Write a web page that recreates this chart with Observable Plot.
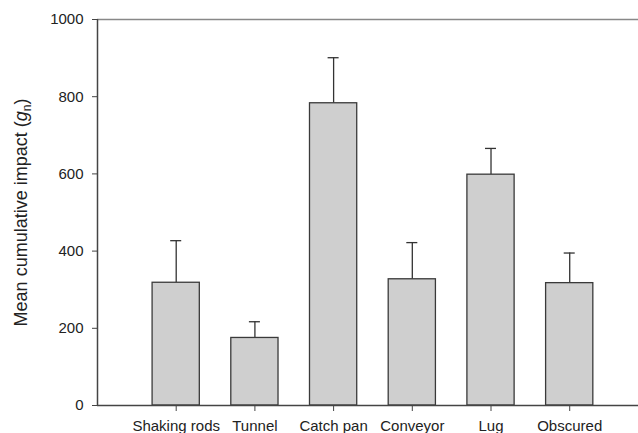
<!DOCTYPE html>
<html>
<head>
<meta charset="utf-8">
<script src="https://cdn.jsdelivr.net/npm/d3@7"></script>
<script src="https://cdn.jsdelivr.net/npm/@observablehq/plot@0.6"></script>
<style>
  html, body { margin: 0; padding: 0; background: #fff; }
  svg { display: block; }
</style>
</head>
<body>
<div id="chart"></div>
<script>
const categories = ["Shaking rods", "Tunnel", "Catch pan", "Conveyor", "Lug", "Obscured"];
const means = [318, 175, 783, 327, 598, 317];
const upper = [427, 217, 901, 422, 666, 395];
const yTicks = [0, 200, 400, 600, 800, 1000];
const yTitle = "Mean cumulative impact (";

const rows = categories.map((c, i) => ({cat: c, pos: i + 1, mean: means[i], up: upper[i]}));
const half = 0.3, cap = 0.07;

const chart = Plot.plot({
  width: 638,
  height: 433,
  marginLeft: 97,
  marginRight: 0,
  marginTop: 19,
  marginBottom: 28,
  style: {fontFamily: "'Liberation Sans', Arial, sans-serif", fontSize: "15px", color: "#222", background: "#fff"},
  x: {domain: [0, 6.874], axis: null},
  y: {domain: [0, 1000], axis: null},
  marks: [
    Plot.ruleX(rows, {x: "pos", y1: "mean", y2: "up", stroke: "#333", strokeWidth: 1.3}),
    Plot.ruleY(rows, {y: "up", x1: d => d.pos - cap, x2: d => d.pos + cap, stroke: "#333", strokeWidth: 1.3}),
    Plot.rectY(rows, {x1: d => d.pos - half, x2: d => d.pos + half, y1: 0, y2: "mean", fill: "#cfcfcf", stroke: "#3a3a3a", strokeWidth: 1.3}),
    Plot.ruleY([1000], {stroke: "#888", strokeWidth: 1.5}),
    Plot.ruleY([0], {stroke: "#444", strokeWidth: 1.5}),
    Plot.ruleX([0], {stroke: "#444", strokeWidth: 1.5}),
    Plot.axisY({ticks: yTicks, tickFormat: d => String(d), tickSize: 5, tickPadding: 9, label: null, stroke: "#444", fontSize: 15, fill: "#222"}),
    Plot.axisX({ticks: rows.map(d => d.pos), tickFormat: p => categories[p - 1], tickSize: 6, tickPadding: 9, label: null, stroke: "#444", fontSize: 15, fill: "#222"}),
    Plot.text([yTitle], {frameAnchor: "left", dx: -76, rotate: -90, textAnchor: "middle", lineAnchor: "middle", fontSize: 18, fill: "#222"})
  ]
});

d3.select(chart).selectAll("text").filter(function() { return this.textContent === yTitle; })
  .each(function() {
    const t = d3.select(this);
    const tsp = t.select("tspan").empty() ? t : t.select("tspan");
    tsp.text(yTitle);
    tsp.append("tspan").attr("font-style", "italic").text("g");
    tsp.append("tspan").attr("font-size", "12").attr("dy", "4").text("n");
    tsp.append("tspan").attr("dy", "-4").text(")");
  });

document.getElementById("chart").appendChild(chart);
</script>
</body>
</html>
